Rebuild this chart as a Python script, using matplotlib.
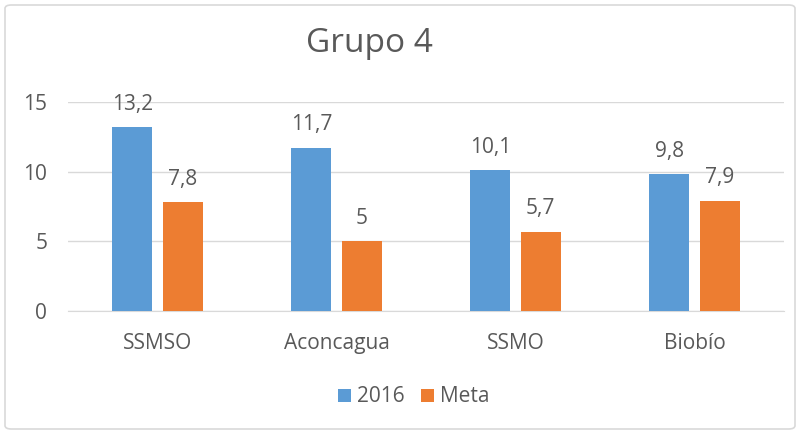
import matplotlib.pyplot as plt
import numpy as np
from matplotlib.patches import FancyBboxPatch

plt.rcParams['font.family'] = ['Open Sans', 'DejaVu Sans']

categorias = ['SSMSO', 'Aconcagua', 'SSMO', 'Biobío']
valores_2016 = [13.2, 11.7, 10.1, 9.8]
valores_meta = [7.8, 5, 5.7, 7.9]
etiquetas_2016 = ['13,2', '11,7', '10,1', '9,8']
etiquetas_meta = ['7,8', '5', '5,7', '7,9']

azul = '#5B9BD5'
naranja = '#ED7D31'
gris_texto = '#595959'

fig = plt.figure(figsize=(8.01, 4.34), dpi=100)
ax = fig.add_axes([68 / 801, 1 - 311 / 434, 716 / 801, 209 / 434])

x = np.arange(len(categorias))
ancho = 0.223
sep = 0.0285
b1 = ax.bar(x - ancho / 2 - sep, valores_2016, ancho, color=azul, label='2016', zorder=3)
b2 = ax.bar(x + ancho / 2 + sep, valores_meta, ancho, color=naranja, label='Meta', zorder=3)

for barras, etiquetas in [(b1, etiquetas_2016), (b2, etiquetas_meta)]:
    for rect, txt in zip(barras, etiquetas):
        ax.annotate(txt, (rect.get_x() + rect.get_width() / 2, rect.get_height()),
                    xytext=(0, 9), textcoords='offset points', ha='center', va='bottom',
                    fontsize=15, color=gris_texto, annotation_clip=False)

ax.set_xlim(-0.5, len(categorias) - 0.5)
ax.set_ylim(0, 15)
ax.set_yticks([0, 5, 10, 15])
ax.set_xticks(x)
ax.set_xticklabels(categorias)
ax.tick_params(axis='both', length=0, labelsize=15, colors=gris_texto)
ax.tick_params(axis='y', pad=15)
ax.tick_params(axis='x', pad=16)
for s in ['top', 'right', 'left']:
    ax.spines[s].set_visible(False)
ax.spines['bottom'].set_color('#D9D9D9')
ax.grid(axis='y', color='#D9D9D9', linewidth=1, zorder=0)
ax.set_axisbelow(True)

fig.text(369 / 801, 1 - 44 / 434, 'Grupo 4', ha='center', va='center', fontsize=24, color=gris_texto)

fig.legend(handles=[b1, b2], loc='center', bbox_to_anchor=(414 / 801, 1 - 397 / 434),
           ncol=2, frameon=False, fontsize=15, labelcolor=gris_texto,
           handlelength=0.6, handleheight=0.6, handletextpad=0.3, columnspacing=0.8)

borde = FancyBboxPatch((5 / 801, 5 / 434), 790 / 801, 424 / 434, transform=fig.transFigure,
                       boxstyle='round,pad=0,rounding_size=0.008', fill=False,
                       edgecolor='#D9D9D9', linewidth=1.2)
fig.patches.append(borde)

fig.savefig('out.png', dpi=100)
